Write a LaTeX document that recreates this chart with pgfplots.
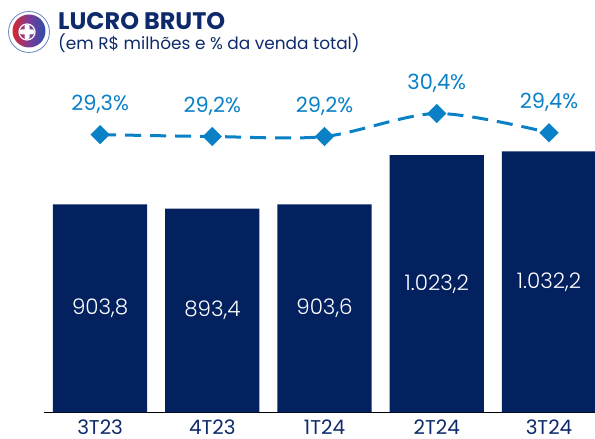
\documentclass[border=0pt]{standalone}
\usepackage{pgfplots}
\pgfplotsset{compat=1.18}
\usepackage{pgfplotstable}
\usepackage{fontspec}
\setmainfont{Poppins}
\newfontfamily\poplight{Poppins Light}
\definecolor{navy}{HTML}{03205F}
\definecolor{lblue}{HTML}{0A80C6}
\definecolor{tnavy}{HTML}{0E2A6B}
\definecolor{lred}{HTML}{D6282E}
\definecolor{lviolet}{HTML}{7B3C9A}
\definecolor{lbl}{HTML}{2A4FA8}

\pgfplotstableread{
x v lab
0 903.8 903,8
1 893.4 893,4
2 903.6 903,6
3 1023.2 1.023,2
4 1032.2 1.032,2
}\lucro

\pgfplotstableread{
x m ml
0 29.3 29,3
1 29.2 29,2
2 29.2 29,2
3 30.4 30,4
4 29.4 29,4
}\margem

\begin{document}
\begin{tikzpicture}[x=1bp,y=1bp]
\useasboundingbox (0,0) rectangle (595,439);
% logo
\draw[lbl!70, line width=0.8bp] (29,407) circle (20.5);
\shade[left color=lred, right color=lbl, middle color=lviolet] (29,408) circle (16.5);
\draw[white, line width=1.2bp] (27,407) circle (8);
\fill[white, rounded corners=1bp] (24.5,400) rectangle (29.5,414);
\fill[white, rounded corners=1bp] (20,404.5) rectangle (34,409.5);
% titles
\node[anchor=base west, inner sep=0, text=tnavy, font=\fontsize{24}{26}\selectfont\bfseries] at (58,409.5) {LUCRO BRUTO};
\node[anchor=base west, inner sep=0, text=tnavy, font=\fontsize{17}{19}\selectfont] at (58,389) {(em R\$ milhões e \% da venda total)};

\begin{axis}[at={(44bp,26.5bp)}, anchor=south west, scale only axis,
  width=551bp, height=352bp, xmin=-0.5, xmax=4.41, ymin=400, ymax=1252,
  hide y axis, axis x line=bottom,
  x axis line style={-, line width=1.5bp, black},
  xtick={0,1,2,3,4}, xticklabels={3T23,4T23,1T24,2T24,3T24},
  major tick length=0,
  xticklabel style={font=\fontsize{20}{21}\selectfont, text=tnavy, inner sep=0pt, text depth=0pt, yshift=-7bp},
  clip=false]
\addplot[ybar, bar shift=0pt, bar width=0.84, fill=navy, draw=none] table[x=x,y=v]{\lucro};
\addplot[draw=none, mark=none, nodes near coords, point meta=explicit symbolic,
  every node near coord/.append style={anchor=center, text=white, font=\fontsize{21.5}{22}\poplight}]
  table[x=x, y expr={(\thisrow{v}+400)/2}, meta=lab]{\lucro};
\end{axis}

\begin{axis}[at={(44bp,26.5bp)}, anchor=south west, scale only axis,
  width=551bp, height=352bp, xmin=-0.5, xmax=4.41, ymin=14.825, ymax=33.16,
  hide axis, clip=false]
\addplot[lblue, line width=3bp, dash pattern=on 16bp off 9bp, smooth, tension=0.5,
  mark=square*, mark size=5.3bp, mark options={solid, fill=lblue, rotate=45},
  nodes near coords={\pgfplotspointmeta\%}, point meta=explicit symbolic,
  every node near coord/.append style={anchor=center, yshift=30bp, text=lblue, font=\fontsize{21}{22}\selectfont}]
  table[x=x, y=m, meta=ml]{\margem};
\end{axis}
\end{tikzpicture}
\end{document}
